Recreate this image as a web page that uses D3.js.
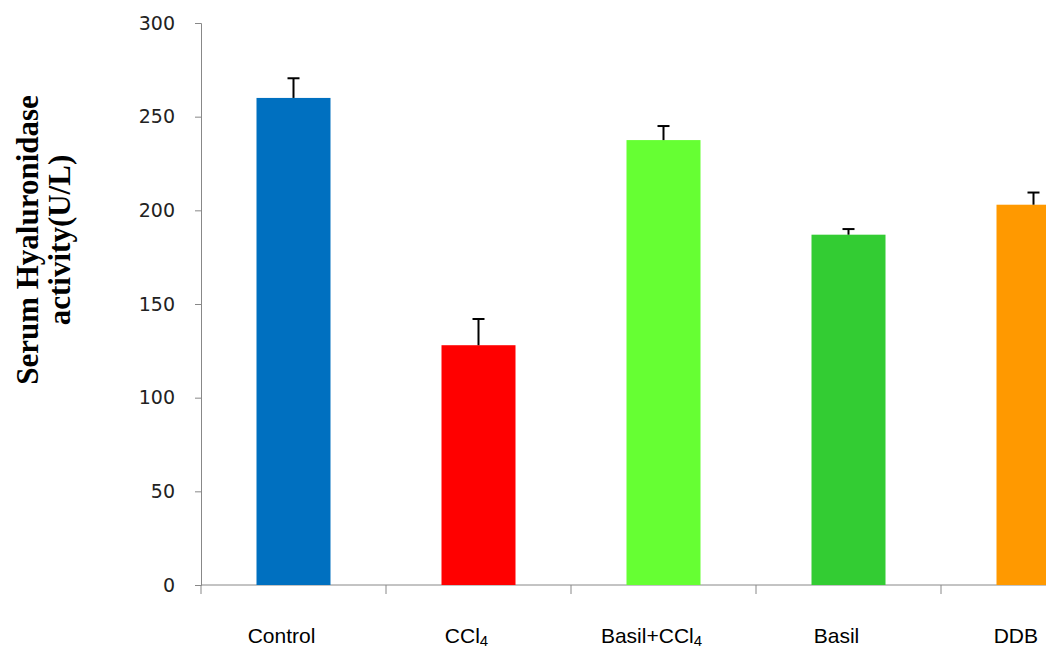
<!DOCTYPE html>
<html><head><meta charset="utf-8">
<script src="https://cdn.jsdelivr.net/npm/d3@7"></script>
<style>body{margin:0;background:#fff}svg{display:block}</style>
</head><body>
<svg id="c" width="1046" height="648"></svg>
<script>
const categories = ["Control", "CCl4", "Basil+CCl4", "Basil", "DDB"];
const labelMain = ["Control", "CCl", "Basil+CCl", "Basil", "DDB"];
const labelSub = ["", "4", "4", "", ""];
const values = [260, 128, 237.5, 187, 203];
const errors = [10.5, 14, 7.5, 3, 6.5];
const colors = ["#0070C0", "#FF0000", "#66FF33", "#33CC33", "#FF9900"];
const yTicks = [0, 50, 100, 150, 200, 250, 300];

const svg = d3.select("#c");
const x0 = 201, x1 = 1126, yTop = 23, yBot = 585, W = 1046;
const x = d3.scaleBand().domain(categories).range([x0, x1]).paddingInner(0.6).paddingOuter(0.3);
const y = d3.scaleLinear().domain([0, 300]).range([yBot, yTop]);

// y axis
const ya = svg.append("g").attr("transform", `translate(${x0},0)`)
  .call(d3.axisLeft(y).tickValues(yTicks).tickSize(6).tickPadding(20));
ya.select(".domain").attr("stroke", "#888");
ya.selectAll(".tick line").attr("stroke", "#888");
ya.selectAll("text").attr("font-family", "DejaVu Sans, sans-serif").attr("font-size", 19).attr("fill", "#222");

// x axis
const xb = d3.scaleLinear().domain([0, 5]).range([x0, x1]);
const xa = svg.append("g").attr("transform", `translate(0,${yBot})`);
xa.append("line").attr("x1", x0).attr("x2", x1).attr("stroke", "#888");
xa.selectAll("line.t").data(d3.range(6)).join("line").attr("class", "t")
  .attr("x1", d => xb(d)).attr("x2", d => xb(d)).attr("y1", 0).attr("y2", 9).attr("stroke", "#888");

// bars
svg.selectAll("rect.bar").data(categories).join("rect").attr("class", "bar")
  .attr("x", d => x(d)).attr("width", x.bandwidth())
  .attr("y", (d, i) => y(values[i])).attr("height", (d, i) => y(0) - y(values[i]))
  .attr("fill", (d, i) => colors[i]);

// error bars
const eg = svg.append("g").attr("stroke", "#000").attr("stroke-width", 2);
categories.forEach((c, i) => {
  const cx = x(c) + x.bandwidth() / 2;
  eg.append("line").attr("x1", cx).attr("x2", cx).attr("y1", y(values[i])).attr("y2", y(values[i] + errors[i]));
  eg.append("line").attr("x1", cx - 6).attr("x2", cx + 6).attr("y1", y(values[i] + errors[i])).attr("y2", y(values[i] + errors[i]));
});

// x labels
categories.forEach((c, i) => {
  const t = svg.append("text").attr("y", 643)
    .attr("text-anchor", "middle").attr("font-family", "Liberation Sans, Arial, sans-serif")
    .attr("font-size", 21).attr("fill", "#000");
  t.append("tspan").text(labelMain[i]);
  if (labelSub[i]) t.append("tspan").attr("font-size", 15).attr("dy", 3).text(labelSub[i]);
  const w = t.node().getComputedTextLength();
  let cx = x(c) + x.bandwidth() / 2 - 12;
  cx = Math.min(cx, W - 8 - w / 2);
  t.attr("x", cx);
});

// y title
const yt = svg.append("text").attr("transform", "translate(0,240) rotate(-90)")
  .attr("text-anchor", "middle").attr("font-family", "Liberation Serif, Times New Roman, serif")
  .attr("font-weight", "bold").attr("font-size", 31).attr("fill", "#000");
yt.append("tspan").attr("x", 0).attr("y", 38).text("Serum Hyaluronidase");
yt.append("tspan").attr("x", 0).attr("y", 70).text("activity(U/L)");
</script>
</body></html>
